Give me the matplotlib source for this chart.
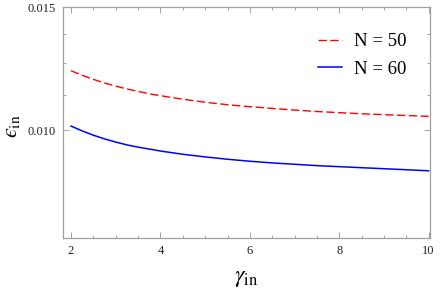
import matplotlib
matplotlib.use("Agg")
import matplotlib.pyplot as plt
from matplotlib.ticker import FixedLocator, NullFormatter

gamma = [2, 2.25, 2.5, 2.75, 3, 3.25, 3.5, 3.75, 4, 4.5, 5, 5.5, 6, 6.5, 7, 7.5, 8, 8.5, 9, 9.5, 10]
eps_N50 = [0.01217, 0.01199, 0.01183, 0.01169, 0.01157, 0.01146, 0.01137, 0.01128, 0.01121,
           0.01108, 0.01097, 0.01088, 0.01081, 0.01075, 0.01069, 0.01064, 0.01060, 0.01056,
           0.01053, 0.01050, 0.01047]
eps_N60 = [0.01014, 0.00998, 0.00984, 0.00972, 0.00962, 0.00953, 0.00946, 0.00940, 0.00934,
           0.00924, 0.00916, 0.00909, 0.00903, 0.00898, 0.00894, 0.00890, 0.00887, 0.00884,
           0.00881, 0.00878, 0.00875]
labels = ["N = 50", "N = 60"]
xticks = [2, 4, 6, 8, 10]
yticks = [0.010, 0.015]
ytick_labels = ["0.010", "0.015"]
yminor = [0.01125, 0.0125, 0.01375]

plt.rcParams['font.family'] = ['Liberation Serif', 'DejaVu Serif']
plt.rcParams['mathtext.fontset'] = 'stix'

fig = plt.figure(figsize=(4.42, 2.90), dpi=100)
ax = fig.add_axes([63/442, 1-238/290, (430-63)/442, (238-7)/290])

ax.plot(gamma, eps_N50, color='#ff0000', lw=1.0, dashes=(6, 2.5), label=labels[0])
ax.plot(gamma, eps_N60, color='#0000ff', lw=1.1, label=labels[1])

ax.set_yscale('log')
ax.set_xlim(1.82, 10.03)
ax.set_ylim(0.00701, 0.01502)

ax.xaxis.set_major_locator(FixedLocator(xticks))
ax.xaxis.set_minor_locator(FixedLocator([x/2 for x in range(4, 21) if x % 4 != 0]))
ax.set_xticklabels([str(t) for t in xticks])
ax.yaxis.set_major_locator(FixedLocator(yticks))
ax.yaxis.set_minor_locator(FixedLocator(yminor))
ax.yaxis.set_minor_formatter(NullFormatter())
ax.set_yticklabels(ytick_labels)

spine_c = '#a0a0a0'
for s in ax.spines.values():
    s.set_color(spine_c)
    s.set_linewidth(0.9)
ax.tick_params(which='both', direction='in', top=True, right=True, color=spine_c,
               labelcolor='#222222', labelsize=9, width=0.7)
ax.tick_params(which='major', length=4, pad=5)
ax.tick_params(which='minor', length=2.5)

ax.set_xlabel(r'$\gamma_{\rm in}$', fontsize=17, labelpad=8)
fig.text(12/442, 1-126/290, '$\u03f5_{\\rm in}$', fontsize=16, rotation=90,
         ha='center', va='center')

leg = ax.legend(loc='upper right', bbox_to_anchor=(406/442, 1-33/290),
                bbox_transform=fig.transFigure, frameon=False, fontsize=13.5,
                handlelength=1.3, handletextpad=0.6, labelspacing=0.55,
                borderpad=0, borderaxespad=0)

fig.savefig('out.png', dpi=100)
